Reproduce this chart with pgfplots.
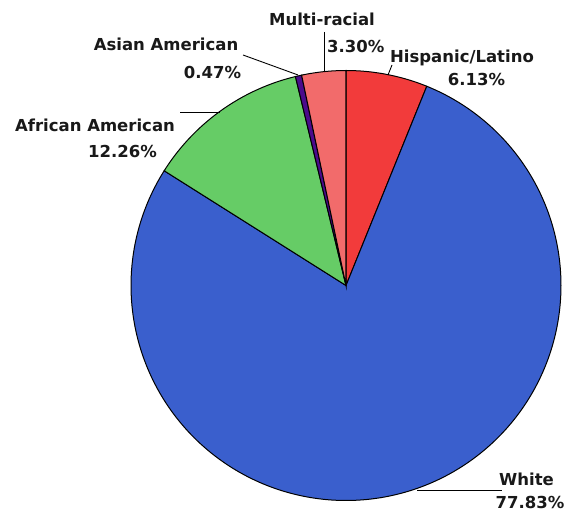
\documentclass[border=0pt]{standalone}
\usepackage{pgfplots}
\pgfplotsset{compat=1.18}
\usepackage{fontspec}
\setmainfont{DejaVu Sans}
\definecolor{chisp}{HTML}{F23B3B}
\definecolor{cwhite}{HTML}{3A5FCD}
\definecolor{cafr}{HTML}{66CC66}
\definecolor{casian}{HTML}{4B0B8C}
\definecolor{cmulti}{HTML}{F26B6B}
\begin{document}
\begin{tikzpicture}
\pgfmathsetmacro{\cx}{346}
\pgfmathsetmacro{\cy}{285.5}
\pgfmathsetmacro{\R}{215}
% shares (percent), clockwise from 12 o'clock
\def\pHisp{6.13}
\def\pWhite{77.83}
\def\pAfr{12.26}
\def\pAsian{0.47}
\def\pMulti{3.30}
\pgfmathsetmacro{\aA}{0}
\pgfmathsetmacro{\aB}{\aA+3.6*\pHisp}
\pgfmathsetmacro{\aC}{\aB+3.6*\pWhite}
\pgfmathsetmacro{\aD}{\aC+3.6*\pAfr}
\pgfmathsetmacro{\aE}{\aD+3.6*\pAsian}
\pgfmathsetmacro{\aF}{\aE+3.6*\pMulti}
\begin{axis}[scale only axis, width=565pt, height=513pt,
  xmin=0, xmax=565, ymin=0, ymax=513, y dir=reverse,
  hide axis, clip=false,
  every axis plot/.append style={line width=1pt, draw=black}]
\addplot[fill=chisp, domain=\aA:\aB, samples=30, variable=\t]
  ({\cx+\R*sin(\t)},{\cy-\R*cos(\t)}) -- (axis cs:\cx,\cy) -- cycle;
\addplot[fill=cwhite, domain=\aB:\aC, samples=240, variable=\t]
  ({\cx+\R*sin(\t)},{\cy-\R*cos(\t)}) -- (axis cs:\cx,\cy) -- cycle;
\addplot[fill=cafr, domain=\aC:\aD, samples=50, variable=\t]
  ({\cx+\R*sin(\t)},{\cy-\R*cos(\t)}) -- (axis cs:\cx,\cy) -- cycle;
\addplot[fill=casian, domain=\aD:\aE, samples=5, variable=\t]
  ({\cx+\R*sin(\t)},{\cy-\R*cos(\t)}) -- (axis cs:\cx,\cy) -- cycle;
\addplot[fill=cmulti, domain=\aE:\aF, samples=20, variable=\t]
  ({\cx+\R*sin(\t)},{\cy-\R*cos(\t)}) -- (axis cs:\cx,\cy) -- cycle;
% leader lines
\addplot[black, line width=0.9pt] coordinates {(324,32) (324,72)};
\addplot[black, line width=0.9pt] coordinates {(243,55) (298,75)};
\addplot[black, line width=0.9pt] coordinates {(392,65) (388,75)};
\addplot[black, line width=0.9pt] coordinates {(180,112) (220,112)};
\addplot[black, line width=0.9pt] coordinates {(417,490) (502,490)};
% labels
\begin{scope}[every node/.style={anchor=base, inner sep=0pt, text=black!90,
    font=\fontsize{16.5}{18}\selectfont\bfseries}]
\node at (axis cs:322,26) {Multi-racial};
\node[anchor=base west] at (axis cs:327,53) {3.30\%};
\node at (axis cs:166,51) {Asian American};
\node at (axis cs:212.5,79) {0.47\%};
\node at (axis cs:462,63) {Hispanic/Latino};
\node at (axis cs:476.5,86) {6.13\%};
\node at (axis cs:95,132) {African American};
\node at (axis cs:122.5,158) {12.26\%};
\node at (axis cs:526.5,485) {White};
\node at (axis cs:530,508) {77.83\%};
\end{scope}
\end{axis}
\pgfresetboundingbox
\useasboundingbox (current axis.south west) rectangle (current axis.north east);
\end{tikzpicture}
\end{document}
